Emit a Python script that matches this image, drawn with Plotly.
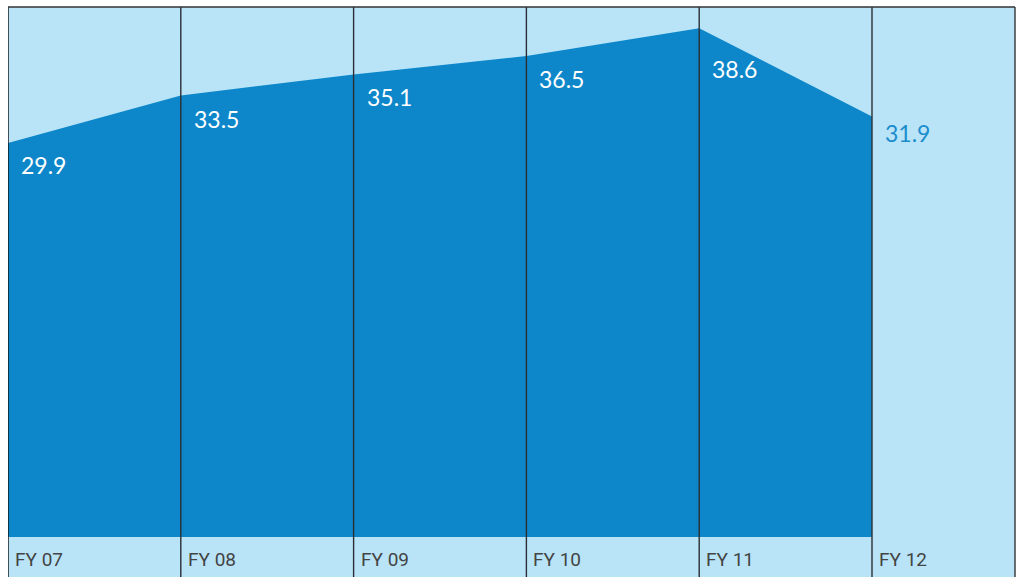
import plotly.graph_objects as go

categories = ["FY 07", "FY 08", "FY 09", "FY 10", "FY 11", "FY 12"]
values = [29.9, 33.5, 35.1, 36.5, 38.6, 31.9]

# styling (pixel offsets of value labels below their points)
label_dy = [-22, -24, -23, -23, -41, -16]
label_colors = ["white", "white", "white", "white", "white", "#1b8dcd"]

LIGHT = "#b9e4f8"
DARK = "#0d87ca"
LINE = "#2b2f33"

xi = list(range(len(categories)))

fig = go.Figure()
fig.add_trace(go.Scatter(
    x=xi, y=values, mode="lines", fill="tozeroy",
    fillcolor=DARK, line=dict(width=0, color=DARK),
    hoverinfo="skip", showlegend=False,
))

annotations = []
for i, (c, v) in enumerate(zip(categories, values)):
    annotations.append(dict(
        x=i, y=v, xref="x", yref="y", text=f"{v:.1f}", showarrow=False,
        xanchor="left", yanchor="middle", xshift=11, yshift=label_dy[i],
        font=dict(family="Lato, 'Open Sans', sans-serif", size=23, color=label_colors[i]),
    ))
    annotations.append(dict(
        x=i, y=0, xref="x", yref="paper", text=c, showarrow=False,
        xanchor="left", yanchor="bottom", xshift=5, yshift=4,
        font=dict(family="'Liberation Sans Narrow', 'Roboto', sans-serif", size=19, color="#444444"),
    ))

shapes = []
for i in xi:
    shapes.append(dict(type="line", xref="x", yref="paper", x0=i, x1=i, y0=0, y1=1,
                       line=dict(color="#111111" if i == 0 else LINE, width=1.4), layer="above"))
# top and right border
shapes.append(dict(type="line", xref="paper", yref="paper", x0=0, x1=1, y0=1, y1=1,
                   line=dict(color="#333333", width=1.6), layer="above"))
shapes.append(dict(type="line", xref="paper", yref="paper", x0=1, x1=1, y0=0, y1=1,
                   line=dict(color="#333333", width=1.4), layer="above"))

W, H = 1016, 577
left, right, top, bottom = 8, 1015, 7, 577
spacing = 172.8
zero_px = 537
scale = 13.18

xr = [0, (right - left) / spacing]
yr = [-(bottom - zero_px) / scale, (zero_px - top) / scale]

fig.update_layout(
    width=W, height=H,
    margin=dict(l=left, r=W - right, t=top, b=H - bottom, pad=0),
    paper_bgcolor="white", plot_bgcolor=LIGHT,
    xaxis=dict(range=xr, showgrid=False, zeroline=False, showticklabels=False, ticks="", fixedrange=True),
    yaxis=dict(range=yr, showgrid=False, zeroline=False, showticklabels=False, ticks="", fixedrange=True),
    annotations=annotations, shapes=shapes, showlegend=False,
)

fig.write_html("out.html", config={"displayModeBar": False})
